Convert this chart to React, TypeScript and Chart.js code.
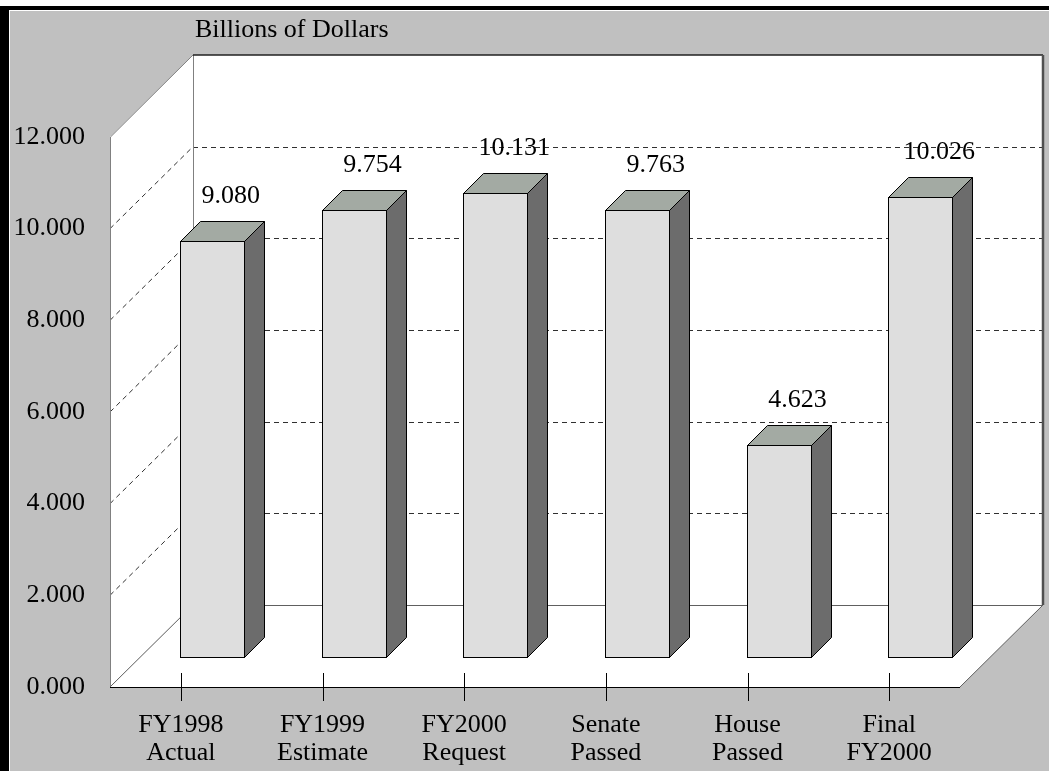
import React, { useEffect, useRef } from "react";
import { Chart, registerables } from "chart.js";

Chart.register(...registerables);

// ---- data ----
const categories: string[][] = [
  ["FY1998", "Actual"],
  ["FY1999", "Estimate"],
  ["FY2000", "Request"],
  ["Senate", "Passed"],
  ["House", "Passed"],
  ["Final", "FY2000"],
];
const values: number[] = [9.08, 9.754, 10.131, 9.763, 4.623, 10.026];
const yMin = 0;
const yMax = 12;
const yStep = 2;
const unitLabel = "Billions of Dollars";

// ---- styling constants ----
const W = 1049;
const H = 771;
const FONT = "'Liberation Serif', 'Times New Roman', serif";
const WALL = { dx: 83, dy: 82 };
const BAR_OFF = { dx: 31, dy: 30 };
const BAR_DEPTH = 20;

const px = (v: number) => Math.round(v) + 0.5;

const threeD = {
  id: "threeD",
  beforeDraw(chart: any) {
    const { ctx, chartArea, scales } = chart;
    const xS = scales.x;
    const yS = scales.y;
    const L = chartArea.left;
    const R = chartArea.right;
    const B = yS.getPixelForValue(yMin);
    const T = yS.getPixelForValue(yMax);
    ctx.save();
    // page frame
    ctx.fillStyle = "#ffffff";
    ctx.fillRect(0, 0, W, H);
    ctx.fillStyle = "#000000";
    ctx.fillRect(0, 6, W, 4);
    ctx.fillRect(0, 6, 9, H - 6);
    ctx.fillStyle = "#c0c0c0";
    ctx.fillRect(10, 11, W - 10, H - 11);

    // back wall
    ctx.fillStyle = "#ffffff";
    ctx.fillRect(L + WALL.dx, T - WALL.dy, R - L, B - T);
    // left wall
    ctx.beginPath();
    ctx.moveTo(L, B);
    ctx.lineTo(L, T);
    ctx.lineTo(L + WALL.dx, T - WALL.dy);
    ctx.lineTo(L + WALL.dx, B - WALL.dy);
    ctx.closePath();
    ctx.fill();
    // floor
    ctx.beginPath();
    ctx.moveTo(L, B);
    ctx.lineTo(R, B);
    ctx.lineTo(R + WALL.dx, B - WALL.dy);
    ctx.lineTo(L + WALL.dx, B - WALL.dy);
    ctx.closePath();
    ctx.fill();

    // gridlines (dashed)
    ctx.strokeStyle = "#303030";
    ctx.lineWidth = 1;
    ctx.setLineDash([5, 4]);
    for (let v = yMin + yStep; v < yMax; v += yStep) {
      const y = yS.getPixelForValue(v);
      ctx.beginPath();
      ctx.moveTo(L + WALL.dx, px(y - WALL.dy));
      ctx.lineTo(R + WALL.dx, px(y - WALL.dy));
      ctx.stroke();
      ctx.beginPath();
      ctx.moveTo(L, y);
      ctx.lineTo(L + WALL.dx, y - WALL.dy);
      ctx.stroke();
    }
    ctx.setLineDash([]);

    // wall edges
    ctx.strokeStyle = "#808080";
    ctx.lineWidth = 1;
    ctx.beginPath();
    ctx.moveTo(px(L), B);
    ctx.lineTo(px(L), T);
    ctx.lineTo(L + WALL.dx, T - WALL.dy);
    ctx.stroke();
    ctx.beginPath();
    ctx.moveTo(px(L + WALL.dx), T - WALL.dy);
    ctx.lineTo(px(L + WALL.dx), B - WALL.dy);
    ctx.stroke();
    ctx.strokeStyle = "#606060";
    ctx.beginPath();
    ctx.moveTo(L + WALL.dx, px(B - WALL.dy));
    ctx.lineTo(R + WALL.dx, px(B - WALL.dy));
    ctx.stroke();
    ctx.beginPath();
    ctx.moveTo(L, B);
    ctx.lineTo(L + WALL.dx, B - WALL.dy);
    ctx.stroke();
    ctx.beginPath();
    ctx.moveTo(R, B);
    ctx.lineTo(R + WALL.dx, B - WALL.dy);
    ctx.stroke();
    // back wall top and right edge
    ctx.strokeStyle = "#202020";
    ctx.lineWidth = 1.5;
    ctx.beginPath();
    ctx.moveTo(L + WALL.dx, T - WALL.dy);
    ctx.lineTo(R + WALL.dx, T - WALL.dy);
    ctx.stroke();
    ctx.strokeStyle = "#505050";
    ctx.lineWidth = 2.5;
    ctx.beginPath();
    ctx.moveTo(R + WALL.dx, T - WALL.dy);
    ctx.lineTo(R + WALL.dx, B - WALL.dy);
    ctx.stroke();
    // floor front edge
    ctx.strokeStyle = "#000000";
    ctx.lineWidth = 1;
    ctx.beginPath();
    ctx.moveTo(L, px(B));
    ctx.lineTo(R, px(B));
    ctx.stroke();
    // x tick marks crossing the front edge
    ctx.strokeStyle = "#000000";
    for (let i = 0; i < xS.ticks.length; i++) {
      const x = xS.getPixelForTick(i);
      ctx.beginPath();
      ctx.moveTo(px(x), B - 14);
      ctx.lineTo(px(x), B + 14);
      ctx.stroke();
    }
    // unit label
    ctx.fillStyle = "#000000";
    ctx.font = `26px ${FONT}`;
    ctx.textAlign = "left";
    ctx.textBaseline = "alphabetic";
    ctx.fillText(unitLabel, L + WALL.dx + 2, T - WALL.dy - 18);
    ctx.restore();
  },
  afterDatasetsDraw(chart: any) {
    const { ctx } = chart;
    const meta = chart.getDatasetMeta(0);
    ctx.save();
    meta.data.forEach((el: any, i: number) => {
      const p = el.getProps(["x", "y", "base", "width"], true);
      const l = Math.round(p.x - p.width / 2 + BAR_OFF.dx) + 0.5;
      const r = Math.round(p.x + p.width / 2 + BAR_OFF.dx) + 0.5;
      const t = Math.round(p.y - BAR_OFF.dy) + 0.5;
      const b = Math.round(p.base - BAR_OFF.dy) + 0.5;
      const d = BAR_DEPTH;
      ctx.lineWidth = 1;
      ctx.strokeStyle = "#000000";
      ctx.lineJoin = "miter";
      // side
      ctx.fillStyle = "#6c6c6c";
      ctx.beginPath();
      ctx.moveTo(r, t);
      ctx.lineTo(r + d, t - d);
      ctx.lineTo(r + d, b - d);
      ctx.lineTo(r, b);
      ctx.closePath();
      ctx.fill();
      ctx.stroke();
      // top
      ctx.fillStyle = "#a3aaa3";
      ctx.beginPath();
      ctx.moveTo(l, t);
      ctx.lineTo(r, t);
      ctx.lineTo(r + d, t - d);
      ctx.lineTo(l + d, t - d);
      ctx.closePath();
      ctx.fill();
      ctx.stroke();
      // front
      ctx.fillStyle = "#dedede";
      ctx.fillRect(l, t, r - l, b - t);
      ctx.strokeRect(l, t, r - l, b - t);
      // value label
      ctx.fillStyle = "#000000";
      ctx.font = `26px ${FONT}`;
      ctx.textAlign = "center";
      ctx.textBaseline = "alphabetic";
      ctx.fillText(
        values[i].toFixed(3),
        p.x + BAR_OFF.dx + BAR_DEPTH - 1,
        p.y - BAR_OFF.dy - 38
      );
    });
    ctx.restore();
  },
};

export default function App() {
  const ref = useRef<HTMLCanvasElement | null>(null);
  useEffect(() => {
    if (!ref.current) return;
    const chart = new Chart(ref.current, {
      type: "bar",
      data: {
        labels: categories,
        datasets: [
          {
            data: values,
            backgroundColor: "rgba(0,0,0,0)",
            borderWidth: 0,
            barThickness: 64,
          },
        ],
      },
      options: {
        responsive: false,
        animation: false,
        events: [],
        layout: { padding: { left: 0, right: 89, top: 137, bottom: 0 } },
        plugins: {
          legend: { display: false },
          tooltip: { enabled: false },
          title: { display: false },
        },
        scales: {
          x: {
            grid: { display: false, drawTicks: false },
            border: { display: false },
            ticks: {
              color: "#000000",
              font: { family: FONT, size: 26, lineHeight: 1.08 },
              padding: 24,
              maxRotation: 0,
              autoSkip: false,
            },
            afterFit: (s: any) => {
              s.height = 84;
            },
          },
          y: {
            min: yMin,
            max: yMax,
            grid: { display: false, drawTicks: false },
            border: { display: false },
            ticks: {
              stepSize: yStep,
              color: "#000000",
              font: { family: FONT, size: 26 },
              padding: 25,
              callback: (v: any) => Number(v).toFixed(3),
            },
            afterFit: (s: any) => {
              s.width = 110;
            },
          },
        },
      },
      plugins: [threeD],
    });
    return () => chart.destroy();
  }, []);
  return (
    <div style={{ position: "absolute", left: 0, top: 0, width: W, height: H }}>
      <canvas ref={ref} width={W} height={H} style={{ display: "block" }} />
    </div>
  );
}
